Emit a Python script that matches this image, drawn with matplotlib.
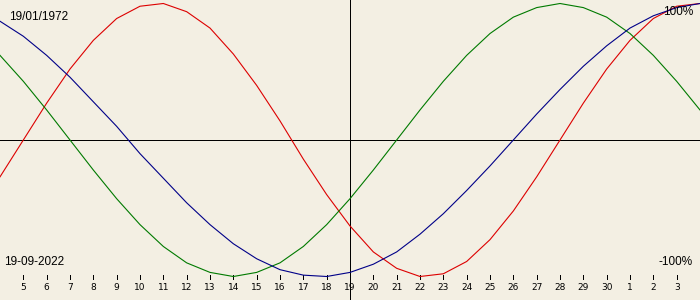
import matplotlib
matplotlib.use("Agg")
import matplotlib.pyplot as plt
import matplotlib.transforms as mtransforms

# Days shown: 4 Sep 2022 .. 4 Oct 2022 (index 0..30)
day_labels = ["4", "5", "6", "7", "8", "9", "10", "11", "12", "13", "14", "15", "16",
              "17", "18", "19", "20", "21", "22", "23", "24", "25", "26", "27",
              "28", "29", "30", "1", "2", "3", "4"]

physical = [-0.27, 0.00, 0.27, 0.52, 0.73, 0.89, 0.98, 1.00, 0.94, 0.82, 0.63,
            0.40, 0.14, -0.14, -0.40, -0.63, -0.82, -0.94, -1.00, -0.98, -0.89,
            -0.73, -0.52, -0.27, 0.00, 0.27, 0.52, 0.73, 0.89, 0.98, 1.00]
emotional = [0.62, 0.43, 0.22, 0.00, -0.22, -0.43, -0.62, -0.78, -0.90, -0.97,
             -1.00, -0.97, -0.90, -0.78, -0.62, -0.43, -0.22, 0.00, 0.22, 0.43,
             0.62, 0.78, 0.90, 0.97, 1.00, 0.97, 0.90, 0.78, 0.62, 0.43, 0.22]
intellectual = [0.87, 0.76, 0.62, 0.46, 0.28, 0.10, -0.10, -0.28, -0.46, -0.62,
                -0.76, -0.87, -0.95, -0.99, -1.00, -0.97, -0.91, -0.82, -0.69,
                -0.54, -0.37, -0.19, 0.00, 0.19, 0.37, 0.54, 0.69, 0.82, 0.91,
                0.97, 1.00]

birth_text = "19/01/1972"
date_text = "19-09-2022"
top_text = "100%"
bottom_text = "-100%"
center_index = 15  # 19 Sep

bg = "#F3EFE3"
fig = plt.figure(figsize=(7, 3), dpi=100, facecolor=bg)
ax = fig.add_axes([0, 0, 1, 1])
ax.set_facecolor(bg)
for s in ax.spines.values():
    s.set_visible(False)
ax.set_xticks([])
ax.set_yticks([])

x = list(range(len(day_labels)))
ax.set_xlim(0, len(day_labels) - 1)
ax.set_ylim(-160 / 136.5, 140 / 136.5)

ax.axhline(0, color="black", lw=0.72, antialiased=False, zorder=1)
ax.axvline(center_index, color="black", lw=0.72, antialiased=False, zorder=1)

ax.plot(x, physical, color="#DD0000", lw=0.8, zorder=3)
ax.plot(x, emotional, color="#007A00", lw=0.8, zorder=3)
ax.plot(x, intellectual, color="#000088", lw=0.8, zorder=3)

trans = mtransforms.blended_transform_factory(ax.transData, ax.transAxes)
tick_idx = x[1:-1]
ax.vlines(tick_idx, 21 / 300, 25 / 300, transform=trans, color="black",
          lw=0.72, antialiased=False)
for i in tick_idx:
    ax.text(i, 12.5 / 300, day_labels[i], transform=trans, ha="center",
            va="center", fontsize=6.5, family="DejaVu Sans", color="black")

ax.text(9 / 700, 1 - 16.7 / 300, birth_text, transform=ax.transAxes,
        ha="left", va="center", fontsize=8.5, family="Liberation Sans")
ax.text(4 / 700, 1 - 262.3 / 300, date_text, transform=ax.transAxes,
        ha="left", va="center", fontsize=8.5, family="Liberation Sans")
ax.text(693 / 700, 1 - 12 / 300, top_text, transform=ax.transAxes,
        ha="right", va="center", fontsize=8.5, family="Liberation Sans")
ax.text(693 / 700, 1 - 262.3 / 300, bottom_text, transform=ax.transAxes,
        ha="right", va="center", fontsize=8.5, family="Liberation Sans")

fig.savefig("out.png", dpi=100, facecolor=bg)
